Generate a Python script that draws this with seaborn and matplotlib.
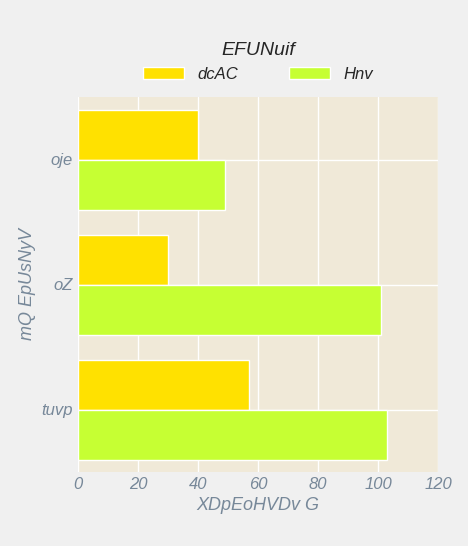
import pandas as pd
import matplotlib.pyplot as plt
import seaborn as sns

categories = ['oje', 'oZ', 'tuvp']
dcAC = [40, 30, 57]
Hnv = [49, 101, 103]

df = pd.DataFrame({
    'cat': categories * 2,
    'val': dcAC + Hnv,
    'series': ['dcAC'] * 3 + ['Hnv'] * 3,
})

sns.set_style("whitegrid")
plt.rcParams['font.family'] = ['Liberation Sans', 'DejaVu Sans']
plt.rcParams['font.style'] = 'italic'

fig = plt.figure(figsize=(4.68, 5.46), dpi=100, facecolor='#f0f0f0')
ax = fig.add_axes([78/468, 1 - 472/546, 360/468, 375/546])
ax.set_facecolor('#f0e9d8')

sns.barplot(data=df, y='cat', x='val', hue='series', orient='h',
            palette=['#ffe100', '#c6ff33'], width=0.8, saturation=1, ax=ax)

ax.set_xlim(0, 120)
ax.set_xticks(range(0, 121, 20))
ax.grid(True, color='white', linewidth=1)
ax.set_axisbelow(True)
for s in ax.spines.values():
    s.set_visible(False)
ax.tick_params(colors='#778899', labelsize=12, length=0)
ax.set_xlabel('XDpEoHVDv G', color='#778899', fontsize=13)
ax.set_ylabel('mQ EpUsNyV', color='#778899', fontsize=13)

ax.legend(title='EFUNuif', loc='lower center', bbox_to_anchor=(0.5, 1.0),
          ncol=2, frameon=False, fontsize=12, title_fontsize=14,
          handlelength=2.5, columnspacing=3)

fig.savefig('out.png', dpi=100, facecolor=fig.get_facecolor())
